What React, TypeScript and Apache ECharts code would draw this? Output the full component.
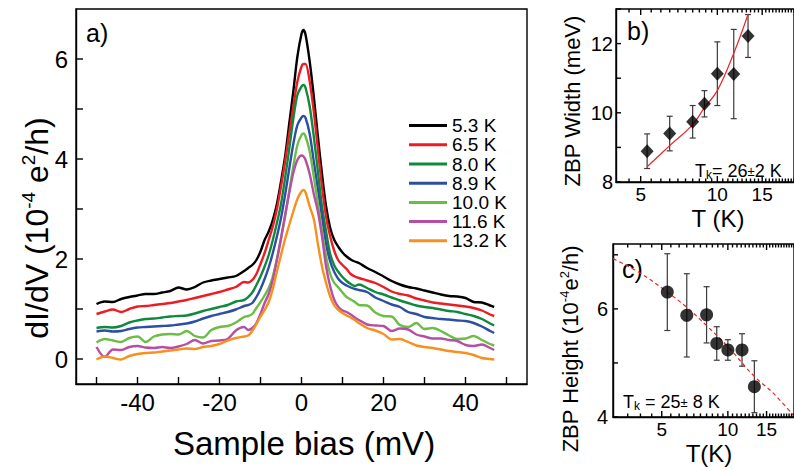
import React, { useEffect, useRef } from "react";
import * as echarts from "echarts";

const FONT = "'Liberation Sans', Arial, Helvetica, sans-serif";

// ---------- Panel a: dI/dV spectra ----------
const bias = [-50, -48, -46, -44, -42, -40, -38, -36, -34, -32, -30, -28, -26, -24, -22, -20, -18, -16, -14,
  -13, -12, -11, -10, -9, -8, -7, -6, -5, -4, -3, -2, -1, 0, 0.5,
  1, 2, 3, 4, 5, 6, 7, 8, 9, 10, 11, 12, 13, 14,
  16, 18, 20, 22, 24, 26, 28, 30, 32, 34, 36, 38, 40, 42, 44, 46, 47];

const curve53 = [1.10, 1.15, 1.14, 1.20, 1.24, 1.27, 1.30, 1.30, 1.33, 1.36, 1.43, 1.39, 1.44, 1.53, 1.57, 1.60, 1.63, 1.66, 1.76,
  1.82, 1.88, 1.98, 2.15, 2.38, 2.55, 2.78, 3.10, 3.55, 4.05, 4.70, 5.35, 6.05, 6.50, 6.58,
  6.48, 5.95, 5.25, 4.45, 3.70, 3.05, 2.62, 2.38, 2.24, 2.13, 2.05, 1.99, 1.95, 1.92,
  1.82, 1.74, 1.65, 1.56, 1.49, 1.44, 1.41, 1.37, 1.33, 1.29, 1.26, 1.25, 1.22, 1.14, 1.13, 1.07, 1.04];
const curve65 = [0.90, 0.95, 0.99, 0.94, 1.00, 1.05, 1.06, 1.08, 1.10, 1.12, 1.15, 1.18, 1.22, 1.26, 1.30, 1.34, 1.39, 1.44, 1.54,
  1.53, 1.58, 1.70, 1.90, 2.12, 2.38, 2.65, 3.00, 3.45, 3.95, 4.50, 5.05, 5.55, 5.85, 5.90,
  5.90, 5.55, 4.95, 4.20, 3.45, 2.85, 2.45, 2.16, 1.97, 1.88, 1.80, 1.70, 1.65, 1.62,
  1.57, 1.52, 1.44, 1.35, 1.30, 1.27, 1.21, 1.17, 1.13, 1.11, 1.09, 1.07, 1.05, 1.02, 0.97, 0.89, 0.86];
const curve80 = [0.62, 0.64, 0.63, 0.66, 0.73, 0.77, 0.80, 0.81, 0.83, 0.85, 0.86, 0.87, 0.91, 0.96, 1.00, 1.04, 1.08, 1.15, 1.18,
  1.24, 1.33, 1.48, 1.65, 1.85, 2.08, 2.38, 2.72, 3.10, 3.62, 4.20, 4.80, 5.28, 5.45, 5.48,
  5.42, 5.05, 4.45, 3.75, 3.05, 2.55, 2.10, 1.87, 1.74, 1.64, 1.56, 1.50, 1.46, 1.49,
  1.42, 1.34, 1.29, 1.23, 1.17, 1.12, 1.07, 1.04, 1.02, 0.99, 0.96, 0.94, 0.90, 0.86, 0.80, 0.71, 0.67];
const curve89 = [0.55, 0.57, 0.55, 0.56, 0.60, 0.63, 0.64, 0.65, 0.66, 0.67, 0.69, 0.71, 0.75, 0.81, 0.86, 0.90, 0.94, 0.99, 1.06,
  1.08, 1.12, 1.24, 1.40, 1.60, 1.83, 2.12, 2.45, 2.82, 3.28, 3.80, 4.30, 4.68, 4.83, 4.86,
  4.82, 4.50, 3.95, 3.40, 2.85, 2.30, 1.95, 1.74, 1.60, 1.52, 1.47, 1.43, 1.40, 1.38,
  1.34, 1.23, 1.16, 1.09, 1.04, 0.94, 0.90, 0.84, 0.82, 0.80, 0.79, 0.77, 0.76, 0.72, 0.65, 0.56, 0.52];
const curve100 = [0.33, 0.40, 0.37, 0.34, 0.42, 0.45, 0.34, 0.45, 0.49, 0.50, 0.49, 0.56, 0.46, 0.43, 0.58, 0.64, 0.66, 0.73, 0.84,
  0.86, 0.90, 1.02, 1.14, 1.27, 1.42, 1.65, 2.00, 2.40, 2.85, 3.35, 3.85, 4.28, 4.48, 4.51,
  4.45, 4.15, 3.65, 3.10, 2.55, 2.05, 1.70, 1.52, 1.43, 1.33, 1.24, 1.19, 1.14, 1.08,
  1.07, 0.93, 0.86, 0.85, 0.68, 0.64, 0.72, 0.60, 0.62, 0.56, 0.47, 0.40, 0.41, 0.46, 0.38, 0.30, 0.27];
const curve116 = [0.24, 0.04, 0.19, 0.18, 0.24, 0.26, 0.23, 0.22, 0.24, 0.22, 0.25, 0.30, 0.38, 0.31, 0.36, 0.37, 0.40, 0.57, 0.64,
  0.58, 0.62, 0.72, 0.90, 1.12, 1.30, 1.58, 1.98, 2.42, 2.88, 3.32, 3.72, 3.98, 4.07, 4.05,
  3.98, 3.70, 3.30, 2.95, 2.45, 1.85, 1.45, 1.18, 1.04, 0.97, 0.94, 0.89, 0.83, 0.78,
  0.69, 0.67, 0.66, 0.56, 0.61, 0.59, 0.49, 0.45, 0.41, 0.41, 0.38, 0.36, 0.28, 0.26, 0.29, 0.22, 0.18];
const curve132 = [-0.01, 0.05, 0.02, -0.01, 0.06, 0.10, 0.12, 0.13, 0.15, 0.17, 0.19, 0.21, 0.20, 0.24, 0.26, 0.30, 0.37, 0.42, 0.45,
  0.47, 0.56, 0.70, 0.85, 0.98, 1.14, 1.40, 1.75, 2.08, 2.40, 2.68, 2.95, 3.20, 3.35, 3.38,
  3.33, 3.05, 2.80, 2.30, 1.85, 1.52, 1.25, 1.07, 0.98, 0.92, 0.87, 0.83, 0.78, 0.72,
  0.62, 0.57, 0.50, 0.39, 0.40, 0.34, 0.27, 0.24, 0.22, 0.19, 0.16, 0.14, 0.12, 0.08, 0.02, 0.00, -0.01];

const curveLabels = ["5.3 K", "6.5 K", "8.0 K", "8.9 K", "10.0 K", "11.6 K", "13.2 K"];
const curves = [curve53, curve65, curve80, curve89, curve100, curve116, curve132];
const curveColors = ["#000000", "#ed1c24", "#0f8a3c", "#2c4ea3", "#6bbd45", "#b54fa3", "#f7901e"];

const aXTicks = [-50, -40, -30, -20, -10, 0, 10, 20, 30, 40, 50];
const aXLabels = [-40, -20, 0, 20, 40];
const aYTicks = [0, 1, 2, 3, 4, 5, 6];
const aYLabels = [0, 2, 4, 6];

// ---------- Panel b: ZBP width ----------
const temps = [5.3, 6.5, 8.0, 8.9, 10.0, 11.6, 13.2];
const zbpWidth = [8.89, 9.40, 9.74, 10.26, 11.13, 11.12, 12.22];
const zbpWidthErr = [0.50, 0.50, 0.47, 0.38, 0.92, 1.29, 0.62];
const widthFitT = [5.3, 6.5, 8.0, 8.9, 10.0, 11.6, 13.2];
const widthFitW = [8.44, 9.05, 9.66, 10.15, 10.64, 11.72, 12.85];
const bXLabels = [5, 10, 15];
const bYTicks = [8, 9, 10, 11, 12, 13];
const bYLabels = [8, 10, 12];

// ---------- Panel c: ZBP height ----------
const zbpHeight = [6.31, 5.88, 5.89, 5.36, 5.24, 5.24, 4.56];
const zbpHeightErr = [0.71, 0.77, 0.52, 0.31, 0.19, 0.30, 0.48];
const heightFitT = [3, 4, 5.3, 6.5, 8, 10, 13.2, 16, 20];
const heightFitH = [6.93, 6.66, 6.31, 6.03, 5.69, 5.30, 4.75, 4.45, 4.02];
const cXLabels = [5, 10, 15];
const cYTicks = [4, 5, 6, 7];
const cYLabels = [4, 6];

function logTicks(min: number, max: number, labels: number[]) {
  const out: number[][] = [];
  for (let v = Math.ceil(min * 2) / 2; v <= max + 1e-9; v += 0.5) {
    if (v <= min + 1e-9) continue;
    out.push([v, labels.indexOf(v) >= 0 ? 1 : 0]);
  }
  return out;
}

const TICK = { stroke: "#000", lineWidth: 1.4 };

// x-axis ticks (bottom, optional top, optional labels) drawn through the axis scale
function xTickSeries(idx: number, ticks: number[][], yMin: number, yMax: number, top: boolean, labels: boolean, minorLen: number, majorLen: number) {
  return {
    type: "custom",
    xAxisIndex: idx,
    yAxisIndex: idx,
    silent: true,
    clip: false,
    z: 5,
    data: ticks,
    renderItem: (_p: any, api: any) => {
      const v = api.value(0);
      const major = api.value(1) === 1;
      const b = api.coord([v, yMin]);
      const t = api.coord([v, yMax]);
      const len = major ? majorLen : minorLen;
      const children: any[] = [
        { type: "line", shape: { x1: b[0], y1: b[1], x2: b[0], y2: b[1] - len }, style: TICK },
      ];
      if (top) {
        children.push({ type: "line", shape: { x1: t[0], y1: t[1], x2: t[0], y2: t[1] + len }, style: TICK });
      }
      if (labels && major) {
        children.push({
          type: "text", x: b[0], y: b[1] + 3,
          style: { text: String(v), fontSize: 19, fontFamily: FONT, fill: "#000", align: "center", verticalAlign: "top" },
        });
      }
      return { type: "group", children };
    },
  };
}

// y-axis ticks (left side, inward)
function yTickSeries(idx: number, ticks: number[], xMin: number, len: number) {
  return {
    type: "custom",
    xAxisIndex: idx,
    yAxisIndex: idx,
    silent: true,
    clip: false,
    z: 5,
    data: ticks.map((v) => [xMin, v]),
    renderItem: (_p: any, api: any) => {
      const p = api.coord([api.value(0), api.value(1)]);
      return { type: "line", shape: { x1: p[0], y1: p[1], x2: p[0] + len, y2: p[1] }, style: TICK };
    },
  };
}

function errorSeries(idx: number, xs: number[], ys: number[], es: number[]) {
  return {
    type: "custom",
    xAxisIndex: idx,
    yAxisIndex: idx,
    silent: true,
    clip: false,
    encode: { x: 0, y: [1, 2] },
    data: xs.map((x, i) => [x, ys[i] - es[i], ys[i] + es[i]]),
    renderItem: (_p: any, api: any) => {
      const x = api.value(0);
      const p1 = api.coord([x, api.value(1)]);
      const p2 = api.coord([x, api.value(2)]);
      const w = 3;
      const st = { stroke: "#3a3a3a", lineWidth: 1.2 };
      return {
        type: "group",
        children: [
          { type: "line", shape: { x1: p1[0], y1: p1[1], x2: p2[0], y2: p2[1] }, style: st },
          { type: "line", shape: { x1: p1[0] - w, y1: p1[1], x2: p1[0] + w, y2: p1[1] }, style: st },
          { type: "line", shape: { x1: p2[0] - w, y1: p2[1], x2: p2[0] + w, y2: p2[1] }, style: st },
        ],
      };
    },
  };
}

const axisLineStyle = { color: "#000", width: 1.4 };

export default function App() {
  const ref = useRef<HTMLDivElement>(null);
  useEffect(() => {
    document.body.style.margin = "0";
    const chart = echarts.init(ref.current!, null, { renderer: "svg" });

    const lineSeries = curves.map((c, i) => ({
      name: curveLabels[i],
      type: "line",
      xAxisIndex: 0,
      yAxisIndex: 0,
      data: bias.map((x, j) => [x, c[j]]),
      showSymbol: false,
      smooth: 0.3,
      lineStyle: { color: curveColors[i], width: 2.4 },
      itemStyle: { color: curveColors[i] },
      z: 3,
    }));

    const sup = (fs: number, lh: number) => ({ fontSize: fs, fontFamily: FONT, fill: "#000", lineHeight: lh, verticalAlign: "top" });
    const main = (fs: number, lh: number) => ({ fontSize: fs, fontFamily: FONT, fill: "#000", lineHeight: lh });

    const option: any = {
      animation: false,
      backgroundColor: "#fff",
      textStyle: { fontFamily: FONT },
      grid: [
        { left: 76, top: 9, width: 451, height: 375, show: true, borderColor: "#000", borderWidth: 1.4, backgroundColor: "transparent" },
        { left: 616, top: 9, width: 189, height: 173, show: true, borderColor: "#000", borderWidth: 1.4, backgroundColor: "transparent" },
        { left: 613, top: 244, width: 187, height: 173, show: true, borderColor: "#000", borderWidth: 1.4, backgroundColor: "transparent" },
      ],
      xAxis: [
        {
          gridIndex: 0, type: "value", min: -55, max: 55,
          axisLine: { onZero: false, lineStyle: axisLineStyle },
          axisTick: { show: false },
          axisLabel: { customValues: aXLabels, fontSize: 24, color: "#000", fontFamily: FONT, margin: 6 },
          splitLine: { show: false },
        },
        {
          gridIndex: 1, type: "log", logBase: 10, min: 4, max: 20,
          axisLine: { onZero: false, lineStyle: axisLineStyle }, axisTick: { show: false }, axisLabel: { show: false }, splitLine: { show: false },
        },
        {
          gridIndex: 2, type: "log", logBase: 10, min: 3, max: 20,
          axisLine: { onZero: false, lineStyle: axisLineStyle }, axisTick: { show: false }, axisLabel: { show: false }, splitLine: { show: false },
        },
      ],
      yAxis: [
        {
          gridIndex: 0, type: "value", min: -0.5, max: 7,
          axisLine: { show: true, onZero: false, lineStyle: axisLineStyle },
          axisTick: { show: false },
          axisLabel: { customValues: aYLabels, fontSize: 24, color: "#000", fontFamily: FONT, margin: 8 },
          splitLine: { show: false },
        },
        {
          gridIndex: 1, type: "value", min: 8, max: 13, interval: 1,
          axisLine: { show: true, onZero: false, lineStyle: axisLineStyle },
          axisTick: { show: false },
          axisLabel: { customValues: bYLabels, fontSize: 20, color: "#000", fontFamily: FONT, margin: 3 },
          splitLine: { show: false },
        },
        {
          gridIndex: 2, type: "value", min: 4, max: 7.2,
          axisLine: { show: true, onZero: false, lineStyle: axisLineStyle },
          axisTick: { show: false },
          axisLabel: { customValues: cYLabels, fontSize: 20, color: "#000", fontFamily: FONT, margin: 5 },
          splitLine: { show: false },
        },
      ],
      legend: {
        data: curveLabels,
        orient: "vertical",
        left: 409,
        top: 116,
        padding: 0,
        itemGap: 0,
        itemWidth: 38,
        itemHeight: 3,
        icon: "rect",
        textStyle: { fontSize: 19, fontFamily: FONT, color: "#000", lineHeight: 19.2 },
      },
      series: [
        ...lineSeries,
        xTickSeries(0, aXTicks.map((v) => [v, 0]), -0.5, 7, false, false, 7, 7),
        yTickSeries(0, aYTicks, -55, 7),
        xTickSeries(1, logTicks(4, 20, bXLabels), 8, 13, true, true, 3.5, 6),
        yTickSeries(1, bYTicks, 4, 5),
        xTickSeries(2, logTicks(3, 20, cXLabels), 4, 7.2, true, true, 3.5, 6),
        yTickSeries(2, cYTicks, 3, 5),
        {
          type: "line", xAxisIndex: 1, yAxisIndex: 1, showSymbol: false, smooth: 0.4, silent: true,
          data: widthFitT.map((t, i) => [t, widthFitW[i]]),
          lineStyle: { color: "#e8262a", width: 1.2 }, z: 2,
        },
        errorSeries(1, temps, zbpWidth, zbpWidthErr),
        {
          type: "scatter", xAxisIndex: 1, yAxisIndex: 1, symbol: "diamond", symbolSize: [13, 14],
          data: temps.map((t, i) => [t, zbpWidth[i]]), itemStyle: { color: "#000" }, z: 4,
        },
        {
          type: "line", xAxisIndex: 2, yAxisIndex: 2, showSymbol: false, smooth: 0.4, silent: true,
          data: heightFitT.map((t, i) => [t, heightFitH[i]]),
          lineStyle: { color: "#e8262a", width: 1.2, type: [4, 3] }, z: 2,
        },
        errorSeries(2, temps, zbpHeight, zbpHeightErr),
        {
          type: "scatter", xAxisIndex: 2, yAxisIndex: 2, symbol: "circle", symbolSize: 13,
          data: temps.map((t, i) => [t, zbpHeight[i]]), itemStyle: { color: "#000" }, z: 4,
        },
      ],
      graphic: [
        { type: "text", x: 86, y: 20, style: { text: "a)", fontSize: 25, fontFamily: FONT, fill: "#000" } },
        { type: "text", x: 627, y: 18, style: { text: "b)", fontSize: 25, fontFamily: FONT, fill: "#000" } },
        { type: "text", x: 622, y: 256, style: { text: "c)", fontSize: 25, fontFamily: FONT, fill: "#000" } },
        {
          type: "text", x: 304, y: 443,
          style: { text: "Sample bias (mV)", fontSize: 33, fontFamily: FONT, fill: "#000", align: "center", verticalAlign: "middle" },
        },
        {
          type: "text", x: 37, y: 228, rotation: Math.PI / 2,
          style: {
            text: "{m|dI/dV (10}{s|-4}{m| e}{s|2}{m|/h)}",
            align: "center", verticalAlign: "middle",
            rich: { m: main(32, 36), s: sup(19, 20) },
          },
        },
        {
          type: "text", x: 572, y: 101, rotation: Math.PI / 2,
          style: { text: "ZBP Width (meV)", fontSize: 22, fontFamily: FONT, fill: "#000", align: "center", verticalAlign: "middle" },
        },
        {
          type: "text", x: 570, y: 349, rotation: Math.PI / 2,
          style: {
            text: "{m|ZBP Height (10}{s|-4}{m|e}{s|2}{m|/h)}",
            align: "center", verticalAlign: "middle",
            rich: { m: main(22, 25), s: sup(13, 14) },
          },
        },
        {
          type: "text", x: 718, y: 218,
          style: { text: "T (K)", fontSize: 24, fontFamily: FONT, fill: "#000", align: "center", verticalAlign: "middle" },
        },
        {
          type: "text", x: 709, y: 453,
          style: { text: "T(K)", fontSize: 24, fontFamily: FONT, fill: "#000", align: "center", verticalAlign: "middle" },
        },
        {
          type: "text", x: 695, y: 171,
          style: {
            text: "{a|T}{k|k}{a|= 26}{p|±}{a|2 K}",
            verticalAlign: "middle",
            rich: {
              a: { fontSize: 18, fontFamily: FONT, fill: "#000", lineHeight: 20 },
              k: { fontSize: 12, fontFamily: FONT, fill: "#000", lineHeight: 12, verticalAlign: "bottom" },
              p: { fontSize: 13, fontFamily: FONT, fill: "#000", lineHeight: 20 },
            },
          },
        },
        {
          type: "text", x: 623, y: 402,
          style: {
            text: "{a|T}{k|k}{a| = 25}{p|±}{a| 8 K}",
            verticalAlign: "middle",
            rich: {
              a: { fontSize: 18, fontFamily: FONT, fill: "#000", lineHeight: 20 },
              k: { fontSize: 12, fontFamily: FONT, fill: "#000", lineHeight: 12, verticalAlign: "bottom" },
              p: { fontSize: 13, fontFamily: FONT, fill: "#000", lineHeight: 20 },
            },
          },
        },
      ],
    };
    chart.setOption(option);
    return () => chart.dispose();
  }, []);
  return <div ref={ref} style={{ width: 794, height: 470 }} />;
}
